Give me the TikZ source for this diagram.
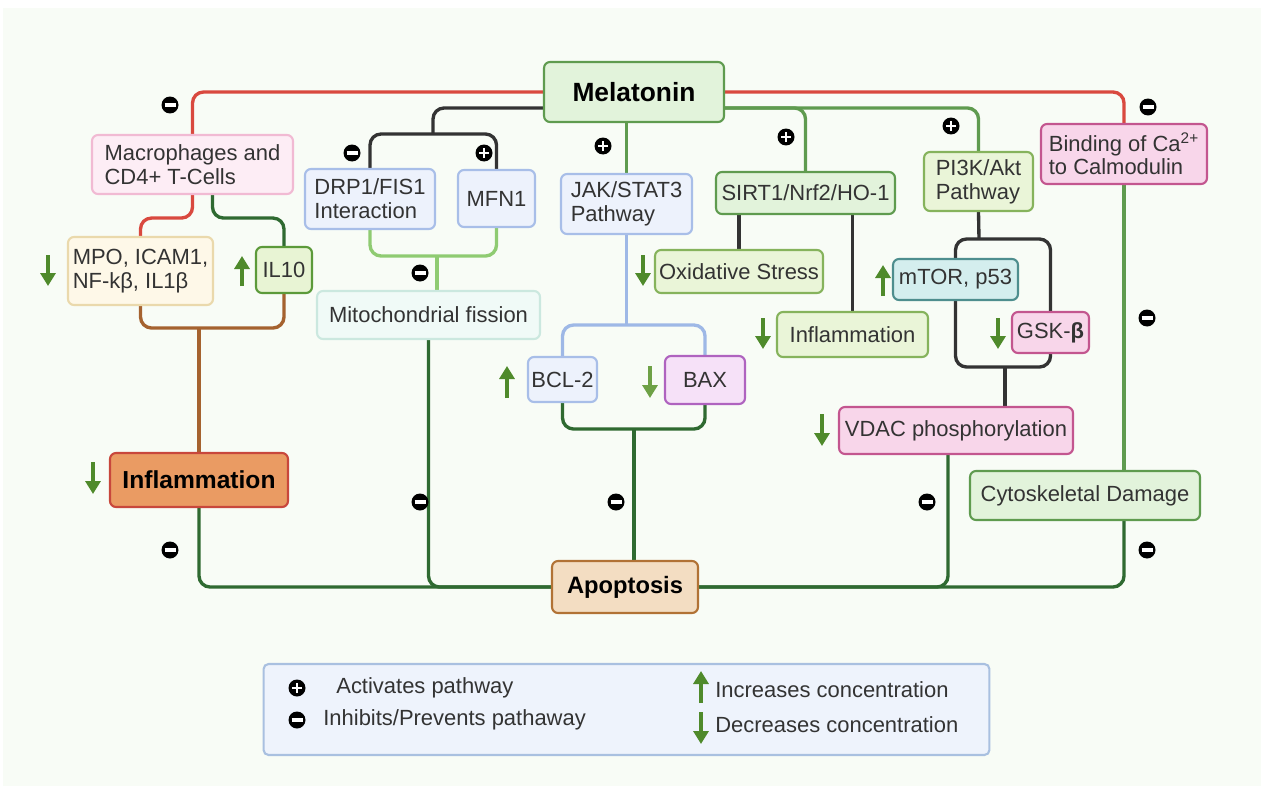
\documentclass[tikz,border=0pt]{standalone}
\usepackage{fontspec}
\setmainfont{Liberation Sans}
\usetikzlibrary{arrows.meta,backgrounds}
\definecolor{panelBg}{HTML}{F8FCF6}
\definecolor{txtGray}{HTML}{333333}
\definecolor{lnRed}{HTML}{D9493F}
\definecolor{lnBlack}{HTML}{333333}
\definecolor{lnGreen}{HTML}{5F9B4F}
\definecolor{lnDark}{HTML}{2F6A31}
\definecolor{lnLight}{HTML}{8FCB72}
\definecolor{lnBlue}{HTML}{9EB8E6}
\definecolor{lnBrown}{HTML}{A5622F}
\definecolor{arrGreen}{HTML}{4F8A2B}
\definecolor{arrLight}{HTML}{6EA146}
\definecolor{melFill}{HTML}{E2F3DB}
\definecolor{melLine}{HTML}{5F9B4F}
\definecolor{pinkFill}{HTML}{FDEDF5}
\definecolor{pinkLine}{HTML}{F1BAD3}
\definecolor{creamFill}{HTML}{FEF8E8}
\definecolor{creamLine}{HTML}{EAD9AC}
\definecolor{limeFill}{HTML}{E8F4D4}
\definecolor{limeLine}{HTML}{5C9A3A}
\definecolor{paleFill}{HTML}{EAF5D8}
\definecolor{paleLine}{HTML}{86B35C}
\definecolor{orangeFill}{HTML}{EA9B63}
\definecolor{orangeLine}{HTML}{C8473C}
\definecolor{blueFill}{HTML}{EDF2FC}
\definecolor{blueLine}{HTML}{A8BEE8}
\definecolor{cyanFill}{HTML}{F0FAF7}
\definecolor{cyanLine}{HTML}{CBE8DF}
\definecolor{purpleFill}{HTML}{F6E1F8}
\definecolor{purpleLine}{HTML}{AF63BF}
\definecolor{tanFill}{HTML}{F3DDC2}
\definecolor{tanLine}{HTML}{B17235}
\definecolor{tealFill}{HTML}{D4EEEE}
\definecolor{tealLine}{HTML}{4E8E8E}
\definecolor{magFill}{HTML}{F8D6EA}
\definecolor{magLine}{HTML}{C3568F}
\definecolor{legFill}{HTML}{EEF3FC}
\definecolor{legLine}{HTML}{A9C0E0}

\begin{document}
\begin{tikzpicture}[x=0.02cm, y=-0.02cm,
    box/.style={draw, rounded corners=0.12cm, line width=1.2pt, inner sep=0pt, align=left, text=txtGray, font=\fontsize{12.5}{13.5}\selectfont},
    lbl/.style={anchor=west, inner sep=0pt, text=txtGray, font=\fontsize{12.5}{13.5}\selectfont},
    conn/.style={line width=1.9pt, rounded corners=0.22cm},
    actv/.style={circle, fill=black, minimum size=0.34cm, inner sep=0pt,
      path picture={\draw[white, line width=1.4pt]
        ([xshift=-0.1cm]path picture bounding box.center) -- ([xshift=0.1cm]path picture bounding box.center)
        ([yshift=-0.1cm]path picture bounding box.center) -- ([yshift=0.1cm]path picture bounding box.center);}},
    inhb/.style={circle, fill=black, minimum size=0.34cm, inner sep=0pt,
      path picture={\draw[white, line width=1.8pt]
        ([xshift=-0.11cm]path picture bounding box.center) -- ([xshift=0.11cm]path picture bounding box.center);}},
    incr/.style={line width=2.8pt, arrGreen, -{Triangle[width=0.3cm,length=0.26cm]}},
    decr/.style={line width=2.8pt, arrGreen, -{Triangle[width=0.3cm,length=0.26cm]}}
  ]
  \useasboundingbox (0,0) rectangle (1261,791);

  % central node
  \node[box, fill=melFill, draw=melLine, minimum width=3.6cm, minimum height=1.2cm, text=black, font=\fontsize{15}{17}\selectfont\bfseries] (mel) at (634,92) {Melatonin};

  % left branch
  \node[box, fill=pinkFill, draw=pinkLine, minimum width=4.02cm, minimum height=1.18cm] (macro) at (192.5,164.5) {Macrophages and\\CD4+ T-Cells};
  \node[box, fill=creamFill, draw=creamLine, minimum width=2.9cm, minimum height=1.36cm] (mpo) at (140.5,271) {MPO, ICAM1,\\NF-kβ, IL1β};
  \node[box, fill=limeFill, draw=limeLine, minimum width=1.12cm, minimum height=0.92cm] (il10) at (284,270) {IL10};
  \node[box, fill=orangeFill, draw=orangeLine, minimum width=3.56cm, minimum height=1.08cm, text=black, font=\fontsize{14}{16}\selectfont\bfseries] (infl) at (199,480) {Inflammation};

  % mitochondria
  \node[box, fill=blueFill, draw=blueLine, minimum width=2.6cm, minimum height=1.2cm] (drp) at (370,199) {DRP1/FIS1\\Interaction};
  \node[box, fill=blueFill, draw=blueLine, minimum width=1.54cm, minimum height=1.14cm] (mfn) at (496.5,198.5) {MFN1};
  \node[box, fill=cyanFill, draw=cyanLine, minimum width=4.46cm, minimum height=0.96cm] (mito) at (428.5,315) {Mitochondrial fission};

  % JAK/STAT3
  \node[box, fill=blueFill, draw=blueLine, minimum width=2.62cm, minimum height=1.2cm] (jak) at (626.5,204) {JAK/STAT3\\Pathway};
  \node[box, fill=blueFill, draw=blueLine, minimum width=1.38cm, minimum height=0.9cm] (bcl) at (562.5,379.5) {BCL-2};
  \node[box, fill=purpleFill, draw=purpleLine, minimum width=1.6cm, minimum height=0.96cm] (bax) at (705,380) {BAX};
  \node[box, fill=tanFill, draw=tanLine, minimum width=2.92cm, minimum height=1.04cm, text=black, font=\fontsize{13.5}{15}\selectfont\bfseries] (apo) at (625,587) {Apoptosis};

  % SIRT1 and PI3K
  \node[box, fill=melFill, draw=melLine, minimum width=3.58cm, minimum height=0.84cm] (sirt) at (805.5,193) {SIRT1/Nrf2/HO-1};
  \node[box, fill=paleFill, draw=paleLine, minimum width=3.36cm, minimum height=0.86cm] (oxi) at (739,271.5) {Oxidative Stress};
  \node[box, fill=paleFill, draw=paleLine, minimum width=3.02cm, minimum height=0.9cm] (infr) at (852.5,334.5) {Inflammation};
  \node[box, fill=paleFill, draw=paleLine, minimum width=2.18cm, minimum height=1.18cm] (pi3k) at (978.5,181.5) {PI3K/Akt\\Pathway};
  \node[box, fill=tealFill, draw=tealLine, minimum width=2.5cm, minimum height=0.82cm] (mtor) at (955.5,279.5) {mTOR, p53};
  \node[box, fill=magFill, draw=magLine, minimum width=1.54cm, minimum height=0.82cm] (gsk) at (1050.5,332.5) {GSK-\textbf{β}};
  \node[box, fill=magFill, draw=magLine, minimum width=4.68cm, minimum height=0.94cm] (vdac) at (956,430.5) {VDAC phosphorylation};

  % calcium
  \node[box, fill=magFill, draw=magLine, minimum width=3.32cm, minimum height=1.2cm] (bind) at (1124,154) {Binding of Ca\textsuperscript{2+}\\to Calmodulin};
  \node[box, fill=melFill, draw=melLine, minimum width=4.6cm, minimum height=0.98cm] (cyto) at (1085,495.5) {Cytoskeletal Damage};

  % junctions
  \coordinate (drpjoin) at (433,134);
  \coordinate (fisjoin) at (437,256);
  \coordinate (bcljoin) at (626.5,325);
  \coordinate (apojoin) at (634,429);
  \coordinate (mtorjoin) at (979,239);
  \coordinate (vdacjoin) at (1005,367);
  \coordinate (infjoin) at (199,328);

  \begin{scope}[on background layer]
    \fill[panelBg] (3,8) rectangle (1261,786);
    % from melatonin
    \draw[conn, lnRed] (mel.west) -| (macro.north);
    \draw[conn, lnRed] (mel.east) -| (bind.north);
    \draw[conn, lnBlack] ([yshift=-0.32cm]mel.west) -| (drpjoin);
    \draw[conn, lnBlack] (drp.north) |- (drpjoin) -| (mfn.north);
    \draw[conn, lnGreen] (mel.south -| jak.north) -- (jak.north);
    \draw[conn, lnGreen] ([yshift=-0.32cm]mel.east) -| (sirt.north);
    \draw[conn, lnGreen] ([yshift=-0.32cm]mel.east) -| (pi3k.north);
    % left side
    \draw[conn, lnRed] (macro.south) -- ++(0,23) -| (mpo.north);
    \draw[conn, lnDark] ([xshift=0.4cm]macro.south) -- ++(0,23) -| (il10.north);
    \draw[conn, lnBrown] (mpo.south) |- (infjoin) -| (il10.south);
    \draw[conn, lnBrown] (infjoin) -- (infl.north);
    % mitochondria
    \draw[conn, lnLight] (drp.south) |- (fisjoin) -| (mfn.south);
    \draw[conn, lnLight] (fisjoin) -- (fisjoin |- mito.north);
    % jak/stat3
    \draw[conn, lnBlue] (jak.south) -- (bcljoin);
    \draw[conn, lnBlue] (bcl.north) |- (bcljoin) -| (bax.north);
    \draw[conn, lnDark] (bcl.south) |- (apojoin) -| (bax.south);
    \draw[conn, lnDark] (apojoin) -- (apojoin |- apo.north);
    % sirt1 and pi3k
    \draw[conn, lnBlack] (oxi.north |- sirt.south) -- (oxi.north);
    \draw[conn, lnBlack] (infr.north |- sirt.south) -- (infr.north);
    \draw[conn, lnBlack] (pi3k.south) -- (mtorjoin);
    \draw[conn, lnBlack] (mtor.north) |- (mtorjoin) -| (gsk.north);
    \draw[conn, lnBlack] (mtor.south) |- (vdacjoin) -| (gsk.south);
    \draw[conn, lnBlack] (vdacjoin) -- (vdacjoin |- vdac.north);
    % calcium
    \draw[conn, lnGreen] (bind.south) -- (bind.south |- cyto.north);
    % into apoptosis
    \draw[conn, lnDark] (infl.south) |- (apo.west);
    \draw[conn, lnDark] (mito.south) |- (apo.west);
    \draw[conn, lnDark] ([xshift=-0.16cm]vdac.south) |- (apo.east);
    \draw[conn, lnDark] (bind.south |- cyto.south) |- (apo.east);
  \end{scope}

  % activation / inhibition marks
  \node[inhb] (inmacro) at (170,105) {};
  \node[inhb] (inbind) at (1148,107) {};
  \node[inhb] (indrp) at (352,153) {};
  \node[actv] (acmfn) at (484,153) {};
  \node[inhb] (inmito) at (420,273) {};
  \node[actv] (acjak) at (603,146) {};
  \node[actv] (acsirt) at (786,137) {};
  \node[actv] (acpi3k) at (951,126) {};
  \node[inhb] (incal) at (1147,318) {};
  \node[inhb] (ininfl) at (170,550) {};
  \node[inhb] (inmitoapo) at (420,502) {};
  \node[inhb] (inbcl) at (616,502) {};
  \node[inhb] (invdac) at (927,502) {};
  \node[inhb] (incyto) at (1147,550) {};

  % concentration arrows
  \draw[decr] (48,255) -- (48,286);
  \draw[incr] (242,286) -- (242,256);
  \draw[decr] (93,462) -- (93,494);
  \draw[decr] (643,255) -- (643,286);
  \draw[incr] (507,398) -- (507,366);
  \draw[decr, arrLight] (650,366) -- (650,398);
  \draw[incr] (883,296) -- (883,265);
  \draw[decr] (763,318) -- (763,349);
  \draw[decr] (998,318) -- (998,349);
  \draw[decr] (822,414) -- (822,446);

  % legend
  \node[box, fill=legFill, draw=legLine, minimum width=14.52cm, minimum height=1.82cm, rounded corners=0.1cm] (leg) at (626.5,709.5) {};
  \node[actv] (lgplus) at (297,688) {};
  \node[inhb] (lgminus) at (297,720) {};
  \node[lbl] (lgact) at (336,688) {Activates pathway};
  \node[lbl] (lginh) at (323,720) {Inhibits/Prevents pathaway};
  \draw[incr] (701,703) -- (701,671);
  \draw[decr] (701,712) -- (701,744);
  \node[lbl] (lginc) at (715,690) {Increases concentration};
  \node[lbl] (lgdec) at (715,725) {Decreases concentration};
\end{tikzpicture}
\end{document}
